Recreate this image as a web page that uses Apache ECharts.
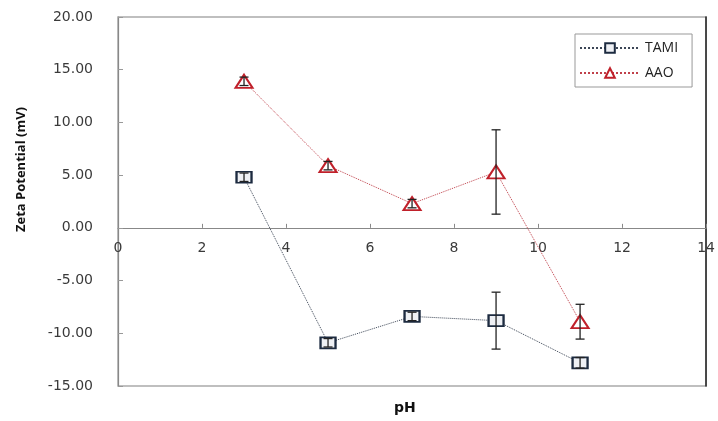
<!DOCTYPE html>
<html>
<head>
<meta charset="utf-8">
<script src="https://cdn.jsdelivr.net/npm/echarts@6/dist/echarts.min.js"></script>
<style>html,body{margin:0;padding:0;background:#fff}#c{width:718px;height:421px}</style>
</head>
<body>
<div id="c"></div>
<script>
var pH = [3, 5, 7, 9, 11];
var tami = [4.8, -10.9, -8.4, -8.8, -12.8];
var tamiErr = [0.4, 0.4, 0.4, 2.7, 0.5];
var aao = [13.9, 5.9, 2.3, 5.3, -8.9];
var aaoErr = [0.4, 0.4, 0.4, 4.0, 1.65];
var xTicks = [0, 2, 4, 6, 8, 10, 12, 14];
var yTicks = [-15, -10, -5, 0, 5, 10, 15, 20];

function pts(xs, ys) { return xs.map(function (x, i) { return [x, ys[i]]; }); }
function errs(xs, ys, es) { return xs.map(function (x, i) { return [x, ys[i] - es[i], ys[i] + es[i]]; }); }

function errRender(params, api) {
  var x = api.value(0);
  var lo = api.coord([x, api.value(1)]);
  var hi = api.coord([x, api.value(2)]);
  var w = 4.5;
  var st = { stroke: '#222', lineWidth: 1.3 };
  return {
    type: 'group',
    children: [
      { type: 'line', shape: { x1: lo[0], y1: lo[1], x2: hi[0], y2: hi[1] }, style: st },
      { type: 'line', shape: { x1: lo[0] - w, y1: lo[1], x2: lo[0] + w, y2: lo[1] }, style: st },
      { type: 'line', shape: { x1: hi[0] - w, y1: hi[1], x2: hi[0] + w, y2: hi[1] }, style: st }
    ]
  };
}

var chart = echarts.init(document.getElementById('c'), null, { renderer: 'canvas' });
var labelFont = { color: '#3a3a3a', fontFamily: 'DejaVu Sans', fontSize: 14 };
chart.setOption({
  animation: false,
  backgroundColor: '#fff',
  grid: { left: 118, right: 7, top: 17, bottom: 35, show: true, borderColor: '#aaa', borderWidth: 1.5, backgroundColor: 'transparent' },
  legend: {
    orient: 'vertical', left: 575, top: 34,
    padding: [7, 14, 7, 4], itemGap: 11, itemWidth: 60, itemHeight: 12,
    borderColor: '#999', borderWidth: 1,
    textStyle: { fontFamily: 'Open Sans', fontSize: 14, color: '#222' },
    data: ['TAMI', 'AAO']
  },
  xAxis: {
    type: 'value', min: 0, max: 14, interval: 2,
    axisLine: { onZero: true, onZeroAxisIndex: 0, lineStyle: { color: '#888', width: 1.2 } },
    axisTick: { inside: true, length: 4, lineStyle: { color: '#888' } },
    axisLabel: Object.assign({ margin: -145, formatter: function (v) { return xTicks.indexOf(v) >= 0 ? String(v) : ''; } }, labelFont),
    splitLine: { show: false }
  },
  yAxis: [{
    type: 'value', min: -15, max: 20, interval: 5,
    axisLine: { show: true, lineStyle: { color: '#888', width: 1.2 } },
    axisTick: { show: true, inside: true, length: 5, lineStyle: { color: '#999' } },
    axisLabel: Object.assign({ margin: 25, formatter: function (v) { return yTicks.indexOf(v) >= 0 ? v.toFixed(2) : ''; } }, labelFont),
    splitLine: { show: false }
  }, {
    type: 'value', min: -15, max: 20, interval: 5, position: 'right',
    axisLine: { show: true, lineStyle: { color: '#222', width: 1.5 } },
    axisTick: { show: false }, axisLabel: { show: false }, splitLine: { show: false }
  }],
  graphic: [
    { type: 'text', left: 15, top: 107, rotation: Math.PI / 2, style: { text: 'Zeta Potential (mV)', fontFamily: 'Open Sans', fontWeight: 'bold', fontSize: 13, fill: '#111' } },
    { type: 'text', left: 394, top: 401, style: { text: 'pH', fontFamily: 'DejaVu Sans', fontWeight: 'bold', fontSize: 14, fill: '#111' } }
  ],
  series: [
    {
      name: 'TAMI', type: 'line', data: pts(pH, tami),
      symbol: 'rect', symbolSize: [15, 11],
      itemStyle: { color: '#eef0f4', borderColor: '#1d2b40', borderWidth: 2 },
      lineStyle: { color: '#3c4656', width: 1, type: 'dotted' }, z: 3
    },
    {
      name: 'AAO', type: 'line', data: pts(pH, aao),
      symbol: 'triangle', symbolSize: [17, 13],
      itemStyle: { color: '#fff', borderColor: '#c0202a', borderWidth: 2 },
      lineStyle: { color: '#c0404a', width: 1, type: 'dotted' }, z: 3
    },
    { name: 'TAMIerr', type: 'custom', renderItem: errRender, data: errs(pH, tami, tamiErr), encode: { x: 0, y: [1, 2] }, z: 5, silent: true },
    { name: 'AAOerr', type: 'custom', renderItem: errRender, data: errs(pH, aao, aaoErr), encode: { x: 0, y: [1, 2] }, z: 5, silent: true }
  ]
});
</script>
</body>
</html>
